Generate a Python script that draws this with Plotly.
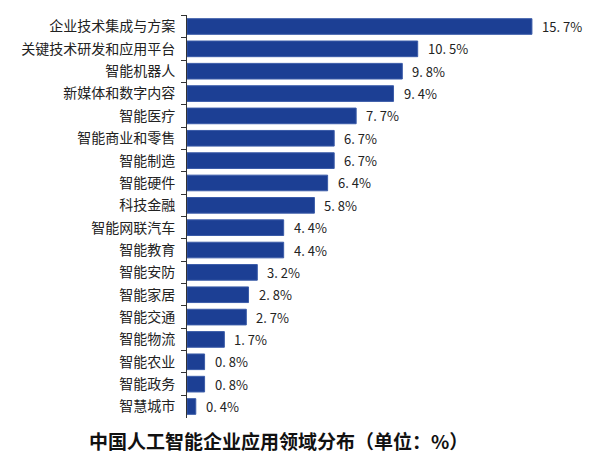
import plotly.graph_objects as go

categories = ["企业技术集成与方案", "关键技术研发和应用平台", "智能机器人", "新媒体和数字内容",
              "智能医疗", "智能商业和零售", "智能制造", "智能硬件", "科技金融", "智能网联汽车",
              "智能教育", "智能安防", "智能家居", "智能交通", "智能物流", "智能农业", "智能政务", "智慧城市"]
values = [15.7, 10.5, 9.8, 9.4, 7.7, 6.7, 6.7, 6.4, 5.8, 4.4, 4.4, 3.2, 2.8, 2.7, 1.7, 0.8, 0.8, 0.4]
title_text = "中国人工智能企业应用领域分布（单位：%）"

labels = [f"{v:.1f}%".replace(".", ". ") for v in values]

CJK = "Noto Sans CJK SC"
fig = go.Figure()
fig.add_trace(go.Bar(
    x=values, y=categories, orientation="h",
    marker=dict(color="#1C3F94", line=dict(color="#3A5BA8", width=1)),
    width=0.7, hoverinfo="skip",
))
for c, v, t in zip(categories, values, labels):
    fig.add_annotation(x=v, y=c, text=t, showarrow=False, xanchor="left", yanchor="middle",
                       xshift=8, font=dict(family=CJK, size=13, color="#222222"))
fig.add_annotation(x=(278 - 187) / 400, y=-0.055, xref="paper", yref="paper",
                   text="<b>" + title_text + "</b>",
                   showarrow=False, xanchor="center", yanchor="middle",
                   font=dict(family=CJK, size=19, color="#111111"))
fig.update_layout(
    width=600, height=463, margin=dict(l=187, r=13, t=15, b=45),
    paper_bgcolor="white", plot_bgcolor="white", showlegend=False,
    xaxis=dict(range=[0, 400 / 21.97], visible=False, fixedrange=True),
    yaxis=dict(type="category", categoryorder="array", categoryarray=categories,
               autorange="reversed", showline=True, linecolor="#333333", linewidth=1,
               ticks="outside", ticklen=5, tickcolor="#333333", tickson="boundaries",
               ticklabelstandoff=8,
               tickfont=dict(family=CJK, size=14, color="#222222"), showgrid=False),
)
fig.write_html("out.html")
